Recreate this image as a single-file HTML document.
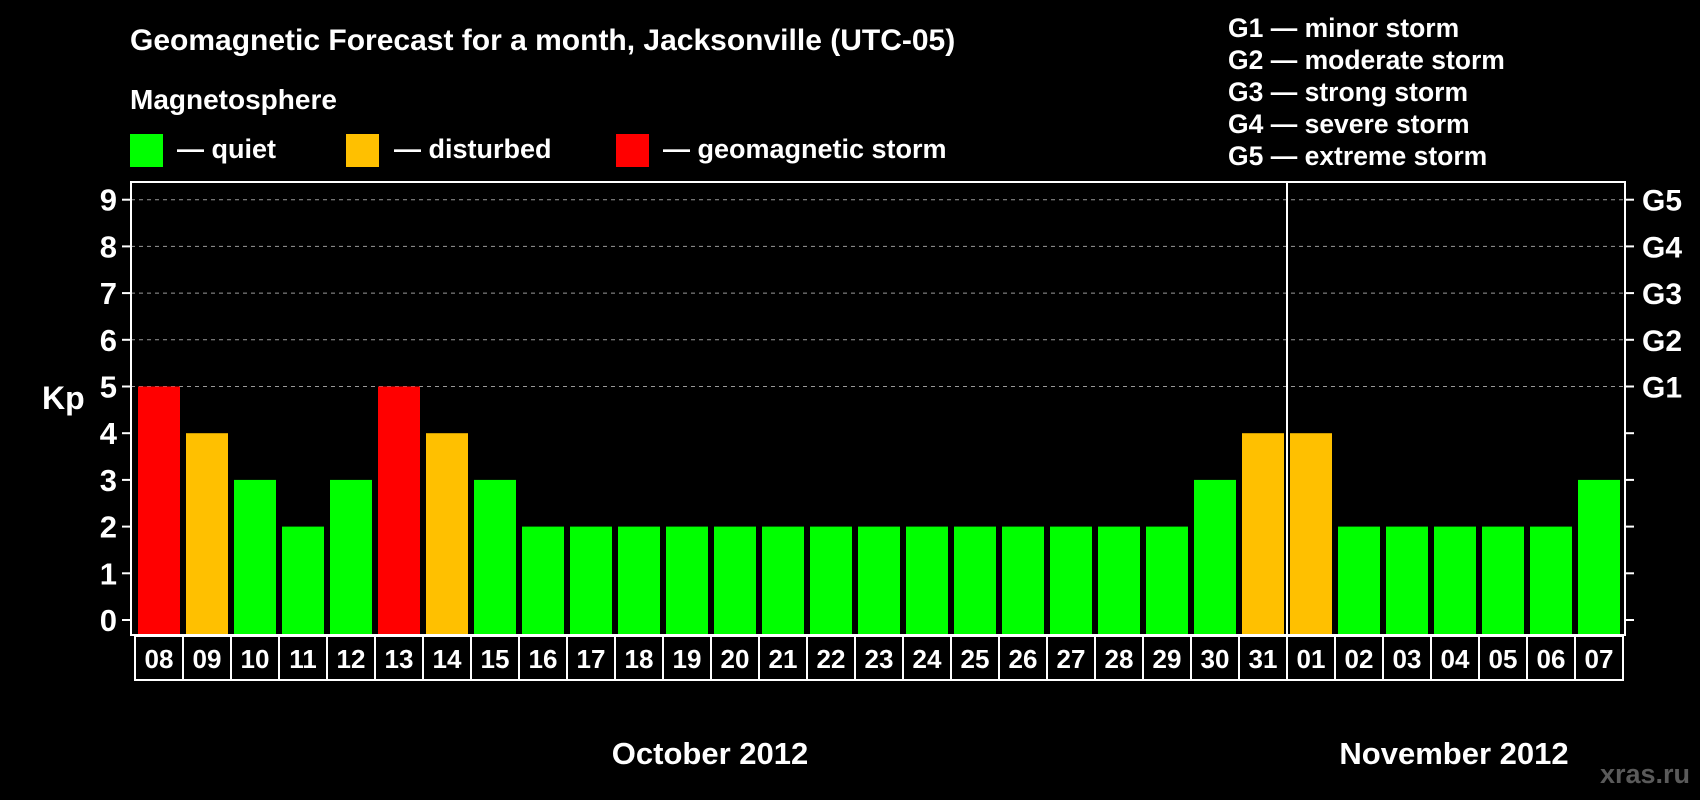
<!DOCTYPE html>
<html><head><meta charset="utf-8"><style>
html,body{margin:0;padding:0;background:#000;}
svg{display:block;font-family:"Liberation Sans",Arial,sans-serif;font-weight:bold;}
</style></head><body>
<svg id="chart" width="1700" height="800" viewBox="0 0 1700 800">
<text x="130" y="50" fill="#fff" font-size="30">Geomagnetic Forecast for a month, Jacksonville (UTC-05)</text>
<text x="130" y="109" fill="#fff" font-size="28">Magnetosphere</text>
<g><rect x="130" y="134" width="33" height="33" fill="#00ff00"/><text x="177" y="158" fill="#fff" font-size="27">— quiet</text></g>
<g><rect x="346" y="134" width="33" height="33" fill="#ffc000"/><text x="394" y="158" fill="#fff" font-size="27">— disturbed</text></g>
<g><rect x="616" y="134" width="33" height="33" fill="#ff0000"/><text x="663" y="158" fill="#fff" font-size="27">— geomagnetic storm</text></g>
<g fill="#fff" font-size="26.5">
<text x="1228" y="37">G1 — minor storm</text>
<text x="1228" y="69">G2 — moderate storm</text>
<text x="1228" y="101">G3 — strong storm</text>
<text x="1228" y="133">G4 — severe storm</text>
<text x="1228" y="165">G5 — extreme storm</text>
</g>
<text x="42" y="409" fill="#fff" font-size="32">Kp</text>
<g id="grid"></g>
<g id="bars"></g>
<rect x="131" y="182" width="1494" height="453" fill="none" stroke="#fff" stroke-width="2"/>
<line x1="1287" y1="182" x2="1287" y2="635" stroke="#fff" stroke-width="2"/>
<g id="labels"></g>
<text x="710" y="764" fill="#fff" font-size="31" text-anchor="middle">October 2012</text>
<text x="1454" y="764" fill="#fff" font-size="31" text-anchor="middle">November 2012</text>
<text x="1690" y="783" fill="#5a5a5a" font-size="27" text-anchor="end">xras.ru</text>
</svg>
<script>
const days = ["08","09","10","11","12","13","14","15","16","17","18","19","20","21","22","23","24","25","26","27","28","29","30","31","01","02","03","04","05","06","07"];
const kpValues = [5,4,3,2,3,5,4,3,2,2,2,2,2,2,2,2,2,2,2,2,2,2,3,4,4,2,2,2,2,2,3];
const yTicks = [0,1,2,3,4,5,6,7,8,9];
const gLabels = ["","","","","","G1","G2","G3","G4","G5"];
const NS="http://www.w3.org/2000/svg";
const y = v => 620 - v*46.7;
const xBar = i => 138 + i*48;
const color = v => v>=5 ? "#ff0000" : (v>=4 ? "#ffc000" : "#00ff00");
const grid=document.getElementById("grid"), bars=document.getElementById("bars"), labels=document.getElementById("labels");
function mk(tag, attrs, parent){const e=document.createElementNS(NS,tag);for(const k in attrs)e.setAttribute(k,attrs[k]);parent.appendChild(e);return e;}
yTicks.forEach((t,i)=>{
  const yy=y(t);
  if(t>=5){const gl=mk("line",{x1:131,x2:1625,y1:yy,y2:yy,stroke:"#999","stroke-dasharray":"4,4","stroke-width":1},grid);
    
    }
  mk("line",{x1:122,x2:131,y1:yy,y2:yy,stroke:"#fff","stroke-width":2},grid);
  mk("line",{x1:1625,x2:1634,y1:yy,y2:yy,stroke:"#fff","stroke-width":2},grid);
  const tl=mk("text",{x:117,y:yy+11,fill:"#fff","font-size":31,"text-anchor":"end"},grid);
  tl.textContent=t;
  
  
  if(gLabels[i]){const g=mk("text",{x:1642,y:yy+11,fill:"#fff","font-size":30},grid);
    g.textContent=gLabels[i];
    
    }
});
kpValues.forEach((v,i)=>{
  const r=mk("rect",{x:xBar(i),y:y(v),width:42,height:635-y(v),fill:color(v)},bars);
  
  
});
days.forEach((d,i)=>{
  const bx=135+i*48;
  const b=mk("rect",{x:bx,y:636,width:48,height:44,fill:"none",stroke:"#fff","stroke-width":2},labels);
  
  
  const t=mk("text",{x:bx+24,y:668,fill:"#fff","font-size":26,"text-anchor":"middle"},labels);
  t.textContent=d;
  
  
});
</script>
</body></html>
